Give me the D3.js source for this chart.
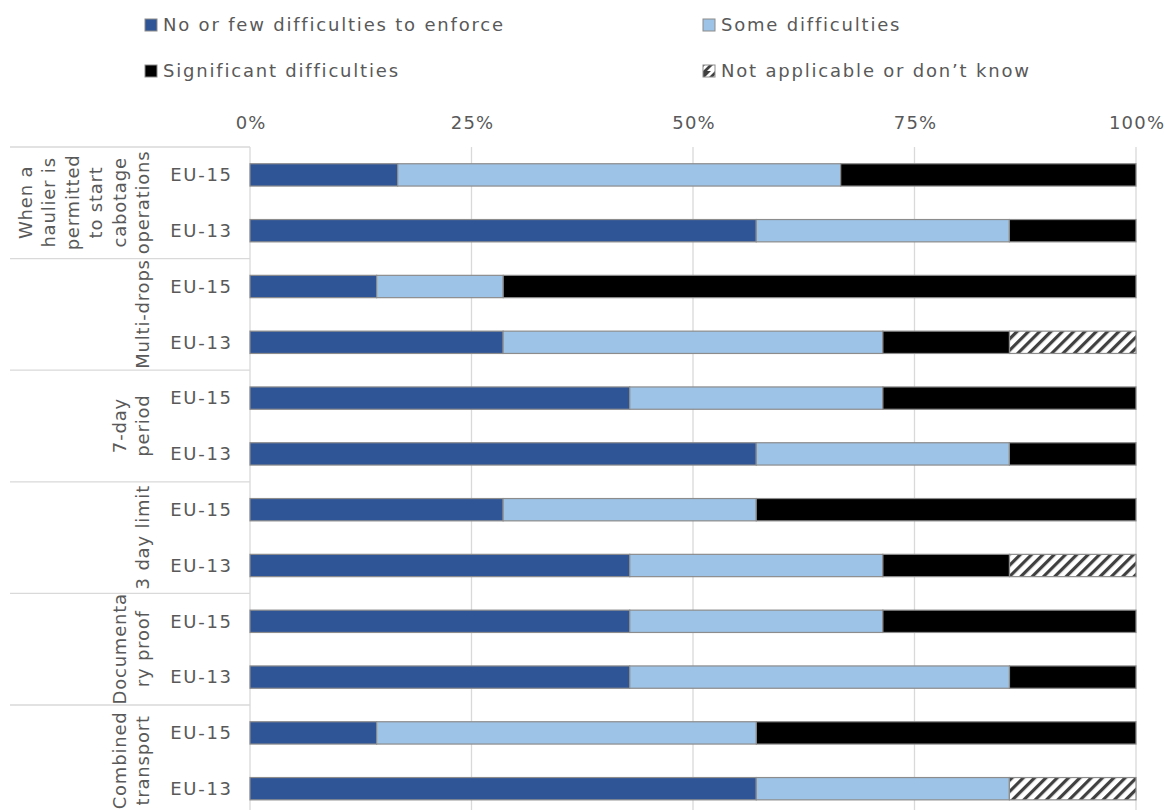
<!DOCTYPE html>
<html><head><meta charset="utf-8">
<script src="https://cdn.jsdelivr.net/npm/d3@7"></script>
<style>
html,body{margin:0;padding:0;background:#fff;}
svg{display:block;font-family:Verdana,"DejaVu Sans","Bitstream Vera Sans",sans-serif;}
</style></head>
<body><svg id="chart" width="1165" height="810"></svg>
<script>
const groups = [
  ["When a","haulier is","permitted","to start","cabotage","operations"],
  ["Multi-drops"],
  ["7-day","period"],
  ["3 day limit"],
  ["Documenta","ry proof"],
  ["Combined","transport"]
];
const regions = ["EU-15","EU-13"];
const seriesNames = ["No or few difficulties to enforce","Some difficulties","Significant difficulties","Not applicable or don’t know"];
const noFew       = [16.67, 57.14, 14.29, 28.57, 42.86, 57.14, 28.57, 42.86, 42.86, 42.86, 14.29, 57.14];
const some        = [50.00, 28.57, 14.29, 42.86, 28.57, 28.57, 28.57, 28.57, 28.57, 42.86, 42.86, 28.57];
const significant = [33.33, 14.29, 71.42, 14.29, 28.57, 14.29, 42.86, 14.29, 28.57, 14.29, 42.85, 0];
const notApp      = [0, 0, 0, 14.28, 0, 0, 0, 14.28, 0, 0, 0, 14.29];
const tickLabels = ["0%","25%","50%","75%","100%"];
const tickValues = [0,25,50,75,100];

const svg = d3.select("#chart");
const colors = ["#2f5597","#9dc3e6","#000000","url(#hatch)"];
const FS = 18, LS = 1.7;

const defs = svg.append("defs");
const pat = defs.append("pattern").attr("id","hatch").attr("patternUnits","userSpaceOnUse")
  .attr("width",8).attr("height",8).attr("patternTransform","rotate(45)");
pat.append("rect").attr("width",8).attr("height",8).attr("fill","#fff");
pat.append("rect").attr("x",0).attr("y",0).attr("width",3.2).attr("height",8).attr("fill","#404040");

const plotLeft = 250, plotRight = 1136, plotTop = 147, rowH = 55.8;
const rows = [];
groups.forEach((g,gi)=>regions.forEach((r,ri)=>rows.push({g:gi,r:ri,label:r})));
const x = d3.scaleLinear().domain([0,100]).range([plotLeft,plotRight]);
const y = d3.scaleBand().domain(d3.range(rows.length)).range([plotTop, plotTop+rows.length*rowH]).paddingInner(0.6).paddingOuter(0.3);
const gScale = d3.scaleBand().domain(d3.range(groups.length)).range([plotTop, plotTop+rows.length*rowH]);

const textCol = "#595959";
const gridCol = "#d9d9d9";

// gridlines
svg.append("g").selectAll("line").data(tickValues).join("line")
  .attr("x1",d=>x(d)).attr("x2",d=>x(d)).attr("y1",plotTop).attr("y2",810)
  .attr("stroke",gridCol).attr("stroke-width",1.3);

// top axis labels
const tickLS = 1.2;
const ax = svg.append("g").attr("transform",`translate(0,${plotTop-10})`)
  .call(d3.axisTop(x).tickValues(tickValues).tickFormat((d,i)=>tickLabels[i]).tickSize(0).tickPadding(8));
ax.select(".domain").remove();
ax.attr("font-family",null);
ax.selectAll("text").attr("fill",textCol).attr("font-size",FS).attr("letter-spacing",tickLS).attr("dx",tickLS/2);

// group separators
svg.append("g").selectAll("line").data(d3.range(groups.length+1)).join("line")
  .attr("x1",10).attr("x2",plotLeft).attr("y1",d=>plotTop+d*gScale.bandwidth()).attr("y2",d=>plotTop+d*gScale.bandwidth())
  .attr("stroke",gridCol).attr("stroke-width",1.3);

// stacked bars
const table = rows.map((r,i)=>({i, v:[noFew[i],some[i],significant[i],notApp[i]]}));
const stacked = d3.stack().keys([0,1,2,3]).value((d,k)=>d.v[k])(table);
svg.append("g").selectAll("g").data(stacked).join("g").attr("fill",(d,k)=>colors[k])
  .selectAll("rect").data(d=>d.filter(p=>p[1]-p[0]>0)).join("rect")
  .attr("x",d=>x(d[0])).attr("width",d=>Math.min(x(d[1]),plotRight)-x(d[0]))
  .attr("y",d=>y(d.data.i)).attr("height",y.bandwidth())
  .attr("stroke","#8c8c8c").attr("stroke-width",1.2);

// row labels
svg.append("g").selectAll("text").data(rows).join("text")
  .attr("x",231+LS).attr("y",(d,i)=>y(i)+y.bandwidth()/2).attr("dy","0.35em")
  .attr("text-anchor","end").attr("fill",textCol).attr("font-size",FS).attr("letter-spacing",LS).text(d=>d.label);

// group labels (rotated)
const gLS = 0.8;
const gl = svg.append("g").selectAll("text").data(groups).join("text")
  .attr("transform",(d,i)=>`translate(143,${gScale(i)+gScale.bandwidth()/2}) rotate(-90)`)
  .attr("text-anchor","middle").attr("fill",textCol).attr("font-size",FS).attr("letter-spacing",gLS);
gl.each(function(lines){
  const t = d3.select(this);
  lines.forEach((ln,j)=>{
    t.append("tspan").attr("x",gLS/2).attr("y",-(lines.length-1-j)*23.5).attr("dy","0.35em").text(ln);
  });
});

// legend
const pat2 = defs.append("pattern").attr("id","hatch2").attr("patternUnits","userSpaceOnUse")
  .attr("width",12).attr("height",12);
pat2.append("rect").attr("width",12).attr("height",12).attr("fill","#fff");
pat2.append("path").attr("d","M0,12 L12,0 L12,4 L4,12 Z M0,8 L8,0 L0,0 Z").attr("fill","#404040");
const legendPos = [[145,25],[703,25],[145,71],[703,71]];
const lg = svg.append("g").selectAll("g").data(seriesNames).join("g")
  .attr("transform",(d,i)=>`translate(${legendPos[i][0]},${legendPos[i][1]})`);
lg.append("rect").attr("x",0).attr("y",-6).attr("width",12).attr("height",12)
  .attr("fill",(d,i)=>i===3?"url(#hatch2)":colors[i]).attr("stroke","#8c8c8c").attr("stroke-width",1);
lg.append("text").attr("x",18).attr("y",0).attr("dy","0.35em").attr("fill",textCol).attr("font-size",FS).attr("letter-spacing",LS+0.1).text(d=>d);
</script></body></html>
